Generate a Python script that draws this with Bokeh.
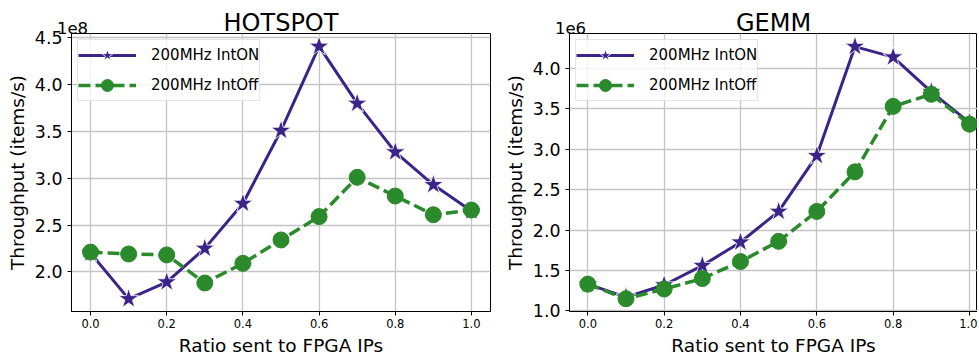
from bokeh.plotting import figure
from bokeh.models import Range1d, FixedTicker, NumeralTickFormatter, LinearAxis
from bokeh.layouts import row
from bokeh.embed import file_html
from bokeh.resources import INLINE

# ---- data ----
RATIO = [0.0, 0.1, 0.2, 0.3, 0.4, 0.5, 0.6, 0.7, 0.8, 0.9, 1.0]
X_TICKS = [0.0, 0.2, 0.4, 0.6, 0.8, 1.0]

# HOTSPOT throughput, in units of 1e8 items/s
HOTSPOT_INTON = [2.20, 1.71, 1.89, 2.25, 2.73, 3.51, 4.41, 3.80, 3.28, 2.93, 2.65]
HOTSPOT_INTOFF = [2.21, 2.19, 2.18, 1.88, 2.09, 2.34, 2.59, 3.01, 2.81, 2.61, 2.66]
HOTSPOT_YTICKS = [2.0, 2.5, 3.0, 3.5, 4.0, 4.5]

# GEMM throughput, in units of 1e6 items/s
GEMM_INTON = [1.33, 1.17, 1.32, 1.56, 1.85, 2.23, 2.92, 4.27, 4.14, 3.71, 3.33]
GEMM_INTOFF = [1.33, 1.15, 1.27, 1.40, 1.61, 1.86, 2.23, 2.72, 3.53, 3.68, 3.31]
GEMM_YTICKS = [1.0, 1.5, 2.0, 2.5, 3.0, 3.5, 4.0]

SERIES_LABELS = ["200MHz IntON", "200MHz IntOff"]
X_LABEL = "Ratio sent to FPGA IPs"
Y_LABEL = "Throughput (items/s)"

PURPLE = "#3b2388"
GREEN = "#2b8a2b"
FONT = "DejaVu Sans"


def panel(title, exp_text, on, off, yticks, x_rng, y_rng, width, bl, br):
    p = figure(width=width, height=358, x_range=Range1d(*x_rng), y_range=Range1d(*y_rng),
               output_backend="svg", toolbar_location=None, title_location=None,
               min_border_left=bl, min_border_right=br, min_border_top=33, min_border_bottom=47)

    p.background_fill_color = "white"
    p.border_fill_color = "white"
    p.outline_line_color = "black"
    p.outline_line_width = 1
    p.outline_line_alpha = 1

    p.xaxis.ticker = FixedTicker(ticks=X_TICKS)
    p.yaxis.ticker = FixedTicker(ticks=yticks)
    p.xaxis.formatter = NumeralTickFormatter(format="0.0")
    p.yaxis.formatter = NumeralTickFormatter(format="0.0")
    p.axis.major_tick_out = 4
    p.axis.major_tick_in = 0
    p.axis.minor_tick_out = 0
    p.axis.minor_tick_in = 0
    p.axis.axis_line_color = "black"
    p.axis.major_tick_line_color = "black"
    p.axis.major_label_text_color = "black"
    p.axis.major_label_text_font = FONT
    p.xaxis.major_label_text_font_size = "11.5px"
    p.yaxis.major_label_text_font_size = "17.4px"
    p.xaxis.major_label_standoff = 3
    p.yaxis.major_label_standoff = 5
    p.axis.axis_label_text_font = FONT
    p.axis.axis_label_text_font_size = "18.5px"
    p.axis.axis_label_text_font_style = "normal"
    p.axis.axis_label_text_color = "black"
    p.yaxis.axis_label = Y_LABEL
    p.yaxis.axis_label_standoff = 4
    p.xaxis.axis_label = X_LABEL
    p.xaxis.axis_label_standoff = 4

    # top axis: carries the scale multiplier (as a tick label) and the panel title
    frame_w = width - bl - br
    exp_pos = x_rng[0] + 1.0 * (x_rng[1] - x_rng[0]) / frame_w
    top = LinearAxis(ticker=FixedTicker(ticks=[exp_pos]),
                     major_label_overrides={exp_pos: exp_text},
                     axis_label=title)
    top.axis_line_color = None
    top.major_tick_line_color = None
    top.minor_tick_line_color = None
    top.major_tick_out = 0
    top.major_tick_in = 0
    top.minor_tick_out = 0
    top.minor_tick_in = 0
    top.major_label_standoff = 0
    top.major_label_text_align = "left"
    top.major_label_text_font = FONT
    top.major_label_text_font_size = "16.5px"
    top.major_label_text_color = "black"
    top.axis_label_text_font = FONT
    top.axis_label_text_font_size = "24px"
    top.axis_label_text_font_style = "normal"
    top.axis_label_text_color = "black"
    top.axis_label_standoff = -18
    p.add_layout(top, "above")

    p.xgrid.ticker = FixedTicker(ticks=X_TICKS)
    p.grid.grid_line_color = "#c4c4c4"
    p.grid.grid_line_width = 1.3

    p.line(RATIO, on, color=PURPLE, line_width=3, legend_label=SERIES_LABELS[0])
    p.scatter(RATIO, on, marker="star", size=21, fill_color=PURPLE, line_color="white",
              line_width=0.8, legend_label=SERIES_LABELS[0])
    p.line(RATIO, off, color=GREEN, line_width=3.5, line_dash="12 5", legend_label=SERIES_LABELS[1])
    p.scatter(RATIO, off, marker="circle", size=16, fill_color=GREEN, line_color=GREEN,
              legend_label=SERIES_LABELS[1])

    lg = p.legend[0]
    lg.location = "top_left"
    lg.margin = 6
    lg.padding = 0
    lg.spacing = -7
    lg.glyph_width = 58
    lg.glyph_height = 30
    lg.label_height = 20
    lg.label_standoff = 15
    lg.label_text_font = FONT
    lg.label_text_font_size = "15px"
    lg.label_text_color = "black"
    lg.border_line_color = "#cccccc"
    lg.border_line_width = 1
    lg.background_fill_alpha = 0.8
    return p


p1 = panel("HOTSPOT", "1e8", HOTSPOT_INTON, HOTSPOT_INTOFF, HOTSPOT_YTICKS,
           (-0.05, 1.05), (1.575, 4.548), 491, 71, 1)
p2 = panel("GEMM", "1e6", GEMM_INTON, GEMM_INTOFF, GEMM_YTICKS,
           (-0.048, 1.021), (0.992, 4.432), 486, 78, 0)

layout = row(p1, p2)
open("out.html", "w").write(file_html(layout, INLINE))
